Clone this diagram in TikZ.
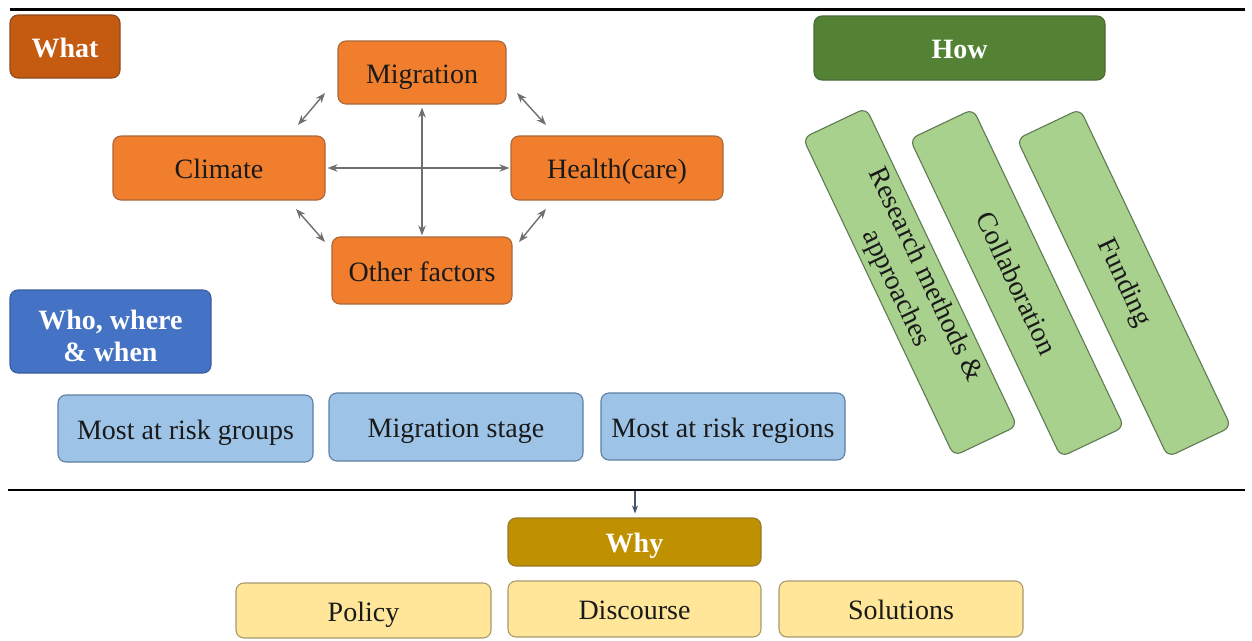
\documentclass[tikz,border=0pt]{standalone}
\usepackage{fontspec}
\setmainfont{Liberation Serif}
\usetikzlibrary{arrows.meta,calc}
\definecolor{whatF}{HTML}{C55A11}
\definecolor{whatD}{HTML}{8F4A1E}
\definecolor{orF}{HTML}{F07E2C}
\definecolor{orD}{HTML}{A8683A}
\definecolor{whoF}{HTML}{4472C4}
\definecolor{whoD}{HTML}{3A5E9A}
\definecolor{ltbF}{HTML}{9DC3E6}
\definecolor{ltbD}{HTML}{5E7FA3}
\definecolor{howF}{HTML}{548235}
\definecolor{howD}{HTML}{4A6A3A}
\definecolor{grF}{HTML}{A9D18E}
\definecolor{grD}{HTML}{5E7A52}
\definecolor{whyF}{HTML}{BF9000}
\definecolor{whyD}{HTML}{9A7A2A}
\definecolor{ylF}{HTML}{FFE699}
\definecolor{ylD}{HTML}{A89A70}
\definecolor{arrG}{HTML}{6F6F6F}
\definecolor{arrB}{HTML}{44546A}
\definecolor{txt}{HTML}{1A1A1A}
\tikzset{
  base/.style={rectangle, rounded corners=8pt, line width=1.1pt, align=center, inner sep=2pt,
    font=\fontsize{28}{32}\selectfont, text=txt},
  one/.style={text height=21pt, text depth=0pt},
  head/.style={base, font=\fontsize{28}{32}\selectfont\bfseries, text=white},
  orbox/.style={base, one, fill=orF, draw=orD},
  bluebox/.style={base, one, fill=ltbF, draw=ltbD},
  greenbox/.style={base, fill=grF, draw=grD, rotate=-64.6, minimum width=352pt, minimum height=70pt},
  yelbox/.style={base, one, fill=ylF, draw=ylD},
  garrow/.style={draw=arrG, line width=1.4pt, {Stealth[length=10pt,width=7.5pt]}-{Stealth[length=10pt,width=7.5pt]}},
  sep/.style={draw=black, line cap=butt}
}
\begin{document}
\begin{tikzpicture}[x=1pt,y=-1pt]
\useasboundingbox (0,0) rectangle (1252,640);
\fill[white] (0,0) rectangle (1252,640);
% separator lines
\coordinate (tl) at (10,9);
\coordinate (tr) at (1245,9);
\coordinate (bl) at (8,490);
\coordinate (br) at (1245,490);
\draw[sep, line width=3pt] (tl) -- (tr);
\draw[sep, line width=2.2pt] (bl) -- (br);
% What
\node[head, one, fill=whatF, draw=whatD, minimum width=110pt, minimum height=63pt] (what) at (65,46.5) {What};
\node[orbox, minimum width=168pt, minimum height=63pt] (mig) at (422,72.5) {Migration};
\node[orbox, minimum width=212pt, minimum height=64pt] (clim) at (219,168) {Climate};
\node[orbox, minimum width=212pt, minimum height=64pt] (hlth) at (617,168) {Health(care)};
\node[orbox, minimum width=180pt, minimum height=67pt] (oth) at (422,270.5) {Other factors};
% arrows in the What cluster
\draw[garrow, shorten <=3pt, shorten >=1pt] (mig.south) -- (oth.north);
\draw[garrow, shorten <=2pt, shorten >=1pt] (clim.east) -- (hlth.west);
\coordinate (cm1) at (298,125); \coordinate (cm2) at (325,93);
\coordinate (mh1) at (517,93);  \coordinate (mh2) at (546,125);
\coordinate (co1) at (296,209); \coordinate (co2) at (325,242);
\coordinate (oh1) at (519,242); \coordinate (oh2) at (546,209);
\draw[garrow] (cm1) -- (cm2);
\draw[garrow] (mh1) -- (mh2);
\draw[garrow] (co1) -- (co2);
\draw[garrow] (oh1) -- (oh2);
% Who, where & when
\node[head, text height=59pt, text depth=0pt, fill=whoF, draw=whoD, minimum width=201pt, minimum height=83pt] (who) at (110.5,331.5) {Who, where\\\& when};
\node[bluebox, minimum width=255pt, minimum height=67pt] (grp) at (185.5,428.5) {Most at risk groups};
\node[bluebox, minimum width=254pt, minimum height=68pt] (stg) at (456,427) {Migration stage};
\node[bluebox, minimum width=244pt, minimum height=67pt] (reg) at (723,426.5) {Most at risk regions};
% How
\node[head, one, fill=howF, draw=howD, minimum width=291pt, minimum height=64pt] (how) at (959.5,48) {How};
\node[greenbox] (res) at (910,282) {Research methods \&\\approaches};
\node[greenbox] (col) at (1017,283) {Collaboration};
\node[greenbox] (fun) at (1124,283) {Funding};
% Why
\coordinate (wtop) at (635,491);
\node[head, one, fill=whyF, draw=whyD, minimum width=253pt, minimum height=48pt] (why) at (634.5,542) {Why};
\draw[draw=arrB, line width=1.1pt, -{Stealth[length=8pt,width=6pt]}, shorten >=4pt] (wtop) -- (why.north -| wtop);
\node[yelbox, minimum width=255pt, minimum height=55pt] (pol) at (363.5,610.5) {Policy};
\node[yelbox, minimum width=253pt, minimum height=56pt] (dis) at (634.5,609) {Discourse};
\node[yelbox, minimum width=244pt, minimum height=56pt] (sol) at (901,609) {Solutions};
\end{tikzpicture}
\end{document}
